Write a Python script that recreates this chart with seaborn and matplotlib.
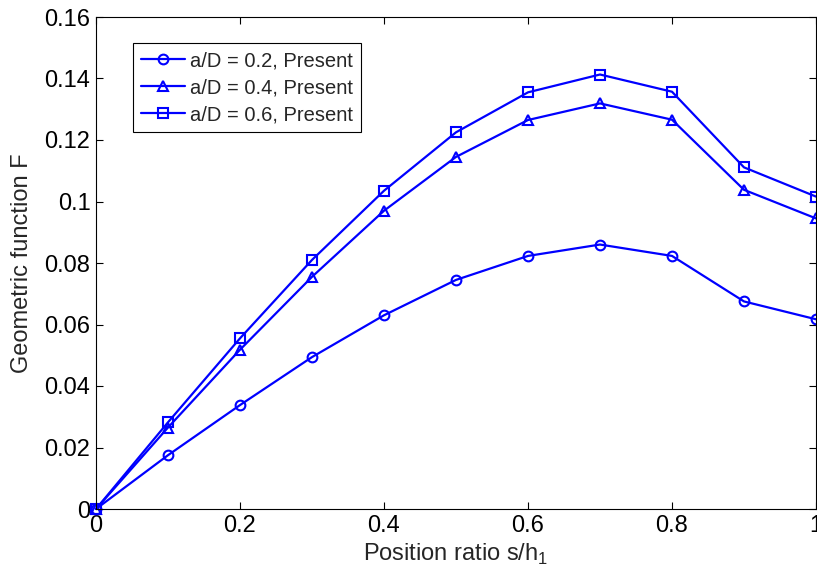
import matplotlib
matplotlib.use("Agg")
import matplotlib.pyplot as plt
import seaborn as sns
import pandas as pd

x_vals = [0, 0.1, 0.2, 0.3, 0.4, 0.5, 0.6, 0.7, 0.8, 0.9, 1.0]
f_02 = [0, 0.0175, 0.0338, 0.0494, 0.0630, 0.0745, 0.0823, 0.0860, 0.0823, 0.0675, 0.0617]
f_04 = [0, 0.0265, 0.0518, 0.0755, 0.0970, 0.1145, 0.1265, 0.1319, 0.1266, 0.1038, 0.0945]
f_06 = [0, 0.0282, 0.0555, 0.0810, 0.1035, 0.1225, 0.1355, 0.1413, 0.1357, 0.1111, 0.1016]
labels = ["a/D = 0.2, Present", "a/D = 0.4, Present", "a/D = 0.6, Present"]
y_ticks = [0, 0.02, 0.04, 0.06, 0.08, 0.1, 0.12, 0.14, 0.16]
y_ticklabels = ["0", "0.02", "0.04", "0.06", "0.08", "0.1", "0.12", "0.14", "0.16"]
x_ticks = [0, 0.2, 0.4, 0.6, 0.8, 1]
x_ticklabels = ["0", "0.2", "0.4", "0.6", "0.8", "1"]

rows = []
for lab, ys in zip(labels, [f_02, f_04, f_06]):
    for xv, yv in zip(x_vals, ys):
        rows.append({"x": xv, "F": yv, "series": lab})
df = pd.DataFrame(rows)

sns.set_style("white")
plt.rcParams["font.family"] = ["Liberation Sans", "DejaVu Sans"]
plt.rcParams["mathtext.fontset"] = "custom"
plt.rcParams["mathtext.rm"] = "Liberation Sans"

fig = plt.figure(figsize=(8.17, 5.72), dpi=100)
ax = fig.add_axes([96/817, 1-509/572, 720/817, 492/572])

blue = (0, 0, 1)
markers = {labels[0]: "o", labels[1]: "^", labels[2]: "s"}
sns.lineplot(data=df, x="x", y="F", hue="series", style="series",
             palette=[blue]*3, markers=markers, dashes=False, ax=ax,
             linewidth=1.6, markersize=7, markerfacecolor="none",
             markeredgecolor=blue, markeredgewidth=1.5, clip_on=False,
             legend=False)

ax.set_xlim(0, 1)
ax.set_ylim(0, 0.16)
ax.set_xticks(x_ticks)
ax.set_xticklabels(x_ticklabels)
ax.set_yticks(y_ticks)
ax.set_yticklabels(y_ticklabels)
ax.tick_params(direction="in", length=5, width=0.8, labelsize=17,
               top=True, right=True, bottom=True, left=True, pad=4, colors="black")
for s in ax.spines.values():
    s.set_visible(True)
    s.set_color("black")
    s.set_linewidth(0.8)
ax.set_xlabel("Position ratio s/h$_{\\mathregular{1}}$", fontsize=17, labelpad=4)
ax.set_ylabel("Geometric function F", fontsize=17, labelpad=8)

from matplotlib.lines import Line2D
handles = [Line2D([0], [0], color=blue, lw=1.6, marker=m, markersize=7,
                  markerfacecolor="none", markeredgecolor=blue, markeredgewidth=1.5)
           for m in ["o", "^", "s"]]
leg = ax.legend(handles, labels, loc="upper left", bbox_to_anchor=(0.051, 0.947),
                borderaxespad=0, fontsize=14.5, frameon=True, fancybox=False,
                edgecolor="black", framealpha=1, handlelength=2.2,
                handletextpad=0.25, labelspacing=0.4, borderpad=0.4)
leg.get_frame().set_linewidth(0.8)

fig.savefig("out.png", dpi=100, facecolor="white")
